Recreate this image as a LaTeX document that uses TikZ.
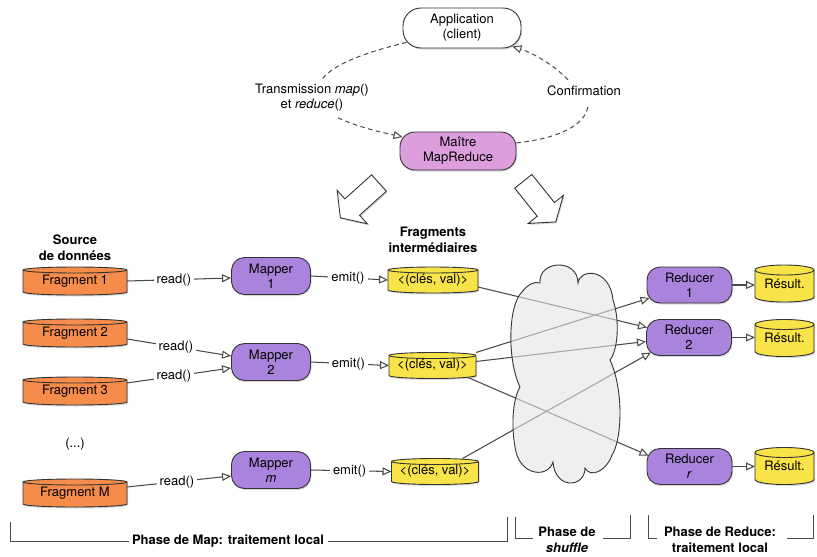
\documentclass[tikz,border=0pt]{standalone}
\usepackage{fontspec}
\setmainfont{TeX Gyre Heros}
\usetikzlibrary{arrows.meta,shadows,calc,backgrounds}

\definecolor{linec}{HTML}{4A4A4A}
\definecolor{bordc}{HTML}{333333}
\definecolor{fragc}{HTML}{F58C4B}
\definecolor{purpc}{HTML}{AA84DC}
\definecolor{pinkc}{HTML}{DD9EDD}
\definecolor{yellc}{HTML}{F8E448}
\definecolor{cloudc}{HTML}{E4E4E4}

\tikzset{
  shad/.style={drop shadow={shadow xshift=1pt,shadow yshift=-1.5pt,opacity=0.3}},
  box/.style={draw=bordc, line width=0.9pt, rounded corners=13pt, align=center, inner sep=0pt, shad},
  mapper/.style={box, fill=purpc, minimum width=79pt, minimum height=37pt},
  reducer/.style={box, fill=purpc, minimum width=85pt, minimum height=36pt},
  tip/.style={-{Triangle[open,length=9pt,width=8pt]}},
  arr/.style={draw=linec, line width=1.05pt, tip},
  lbl/.style={fill=white, inner sep=3pt},
  dline/.style={draw=linec, line width=1pt, dash pattern=on 4.5pt off 3.5pt},
  cyltext/.style={rectangle, inner sep=0pt, outer sep=0pt, align=center},
  bigarr/.style={draw=bordc, line width=0.9pt, fill=white, shad},
  bold/.style={font=\fontsize{13}{16}\selectfont\bfseries, align=center},
  bracket/.style={draw=linec, line width=1pt},
  cloudsh/.style={draw=bordc, line width=0.9pt, fill=cloudc, fill opacity=0.6}
}

% name, position, text, fill, width, body height, ellipse radius
\newcommand\cylnode[7]{%
  \node[cyltext, minimum width=#5pt, minimum height=#6pt] (#1) at (#2) {#3};
  \begin{scope}[on background layer]
    \path[fill=#4, draw=bordc, line width=0.9pt, shad]
      (#1.north west) -- (#1.south west)
      arc[start angle=180, end angle=360, x radius=#5pt/2, y radius=#7pt]
      -- (#1.north east)
      arc[start angle=0, end angle=180, x radius=#5pt/2, y radius=#7pt] -- cycle;
    \draw[bordc, line width=0.9pt] (#1.north west)
      arc[start angle=180, end angle=360, x radius=#5pt/2, y radius=#7pt];
  \end{scope}}

\begin{document}
\begin{tikzpicture}[x=1pt, y=-1pt, font=\fontsize{13}{15}\selectfont]
\useasboundingbox (0,0) rectangle (817,557);

% ---- top part
\node[box, fill=white, rounded corners=18pt, minimum width=118pt, minimum height=40pt] (app) at (462,28) {Application\\(client)};
\node[box, fill=pinkc, rounded corners=15pt, minimum width=116pt, minimum height=38pt] (mr) at (458,151) {Maître\\MapReduce};
\node[align=center, inner sep=2pt] (tlab) at (312,98) {Transmission \textit{map}()\\et \textit{reduce}()};
\node[inner sep=2pt] (conf) at (584,91) {Confirmation};

\draw[dline] ($(app.south west)+(4,-6)$) .. controls (375,50) and (335,62) .. ($(tlab.north)+(10,-3)$);
\draw[dline, tip] ($(tlab.south)+(26,4)$) .. controls (360,128) and (385,133) .. ($(mr.west)+(3,-14)$);
\draw[dline] ($(mr.east)+(0,-8)$) .. controls (560,138) and (585,125) .. ($(conf.south)+(4,8)$);
\draw[dline, tip] ($(conf.north)+(-16,-4)$) .. controls (552,63) and (530,52) .. ($(app.south east)+(-9,-2)$);

% big hollow arrows
\draw[bigarr, shift={(379,183)}, rotate=222] (0,11) -- (36,11) -- (36,22.5) -- (52,0) -- (36,-22.5) -- (36,-11) -- (0,-11) -- cycle;
\draw[bigarr, shift={(523.3,181.3)}, rotate=-51.3] (0,11) -- (36,11) -- (36,22.5) -- (52,0) -- (36,-22.5) -- (36,-11) -- (0,-11) -- cycle;

% ---- labels
\node[bold] (src) at (75,247.5) {Source\\de données};
\node[bold] (intl) at (433,240) {Fragments\\intermédiaires};

% ---- fragments
\cylnode{f1}{75,281}{Fragment 1}{fragc}{104}{22}{3}
\cylnode{f2}{75,333}{Fragment 2}{fragc}{104}{22}{3}
\cylnode{f3}{75,391}{Fragment 3}{fragc}{104}{22}{3}
\cylnode{fM}{75,493}{Fragment M}{fragc}{104}{22}{3}
\node (dots) at (75,444) {(...)};

% ---- mappers
\node[mapper] (m1) at (271,276) {Mapper\\1};
\node[mapper] (m2) at (271,362) {Mapper\\2};
\node[mapper] (mm) at (271,470) {Mapper\\\textit{m}};

% ---- intermediate
\cylnode{kv1}{433,280}{<(clés, val)>}{yellc}{90}{20}{3}
\cylnode{kv2}{432.5,365.5}{<(clés, val)>}{yellc}{87}{20}{3}
\cylnode{kv3}{435,471.5}{<(clés, val)>}{yellc}{87}{20}{3}

% ---- reducers
\node[reducer] (r1) at (689.5,285) {Reducer\\1};
\node[reducer] (r2) at (689,337.5) {Reducer\\2};
\node[reducer] (rr) at (689.5,466.5) {Reducer\\\textit{r}};

\cylnode{res1}{784.5,283.5}{Résult.}{yellc}{59}{27}{5}
\cylnode{res2}{784.5,338}{Résult.}{yellc}{59}{27}{5}
\cylnode{res3}{784.5,466}{Résult.}{yellc}{59}{27}{5}

% ---- read()
\draw[arr] (f1.east) -- node[lbl, pos=0.45] {read()} ($(m1.west)+(0,2)$);
\draw[arr] ($(f2.east)+(0,6)$) -- node[lbl, pos=0.47] {read()} ($(m2.west)+(0,-6)$);
\draw[arr] ($(f3.east)+(0,-8)$) -- node[lbl, pos=0.45] {read()} ($(m2.west)+(0,6)$);
\draw[arr] ($(fM.east)+(0,-6)$) -- node[lbl, pos=0.48] {read()} ($(mm.west)+(0,6)$);

% ---- emit()
\draw[arr] (m1.east) -- node[lbl, pos=0.48] {emit()} (kv1.west);
\draw[arr] (m2.east) -- node[lbl, pos=0.48] {emit()} (kv2.west);
\draw[arr] (mm.east) -- node[lbl, pos=0.48] {emit()} (kv3.west);

% ---- shuffle connections
\draw[arr] ($(kv1.east)+(0,7)$) -- ($(r2)+(-42,-10)$);
\draw[arr] ($(kv2.east)+(0,-13)$) -- ($(r1)+(-40,13)$);
\draw[arr] ($(kv2.east)+(0,-4)$) -- ($(r2)+(-43,4)$);
\draw[arr] ($(kv2.south east)+(-8,2)$) -- ($(rr)+(-41,-11)$);
\draw[arr] ($(kv3.north east)+(-16,-3)$) -- ($(r2)+(-38,15)$);

% cloud
\path[cloudsh] (520,387) .. controls (507,360) and (508,305) .. (522,292)
  .. controls (528,284) and (535,281) .. (540,283)
  .. controls (538,260) and (578,258) .. (578,283)
  .. controls (580,268) and (610,268) .. (613,300)
  .. controls (620,320) and (618,350) .. (610,360)
  .. controls (624,390) and (622,440) .. (612,455)
  .. controls (606,472) and (590,478) .. (585,468)
  .. controls (585,488) and (555,490) .. (553,462)
  .. controls (548,478) and (522,476) .. (516,452)
  .. controls (511,430) and (512,400) .. (520,387) -- cycle;

% ---- reducer -> result
\draw[arr] (r1.east) -- (r1.east -| res1.west);
\draw[arr] (r2.east) -- (r2.east -| res2.west);
\draw[arr] (rr.east) -- (rr.east -| res3.west);

% ---- phase brackets
\node[bold] (pmap) at (228,541) {Phase de Map: traitement local};
\coordinate (pm1) at (10,522);
\coordinate (pm2) at (507,517);
\draw[bracket] (pm1) |- (pmap.west);
\draw[bracket] (pmap.east) -| (pm2);

\node[bold] (pshuf) at (567,540) {Phase de\\\textit{shuffle}};
\coordinate (ps1) at (515,517);
\coordinate (ps2) at (533,538);
\coordinate (ps3) at (603,538);
\coordinate (ps4) at (630,515);
\draw[bracket] (ps1) |- (ps2);
\draw[bracket] (ps3) -| (ps4);

\node[bold] (pred) at (720,539.5) {Phase de Reduce:\\traitement local};
\coordinate (pr1) at (648,515);
\coordinate (pr2) at (657,538);
\coordinate (pr3) at (787,538);
\coordinate (pr4) at (813,515);
\draw[bracket] (pr1) |- (pr2);
\draw[bracket] (pr3) -| (pr4);

\end{tikzpicture}
\end{document}
